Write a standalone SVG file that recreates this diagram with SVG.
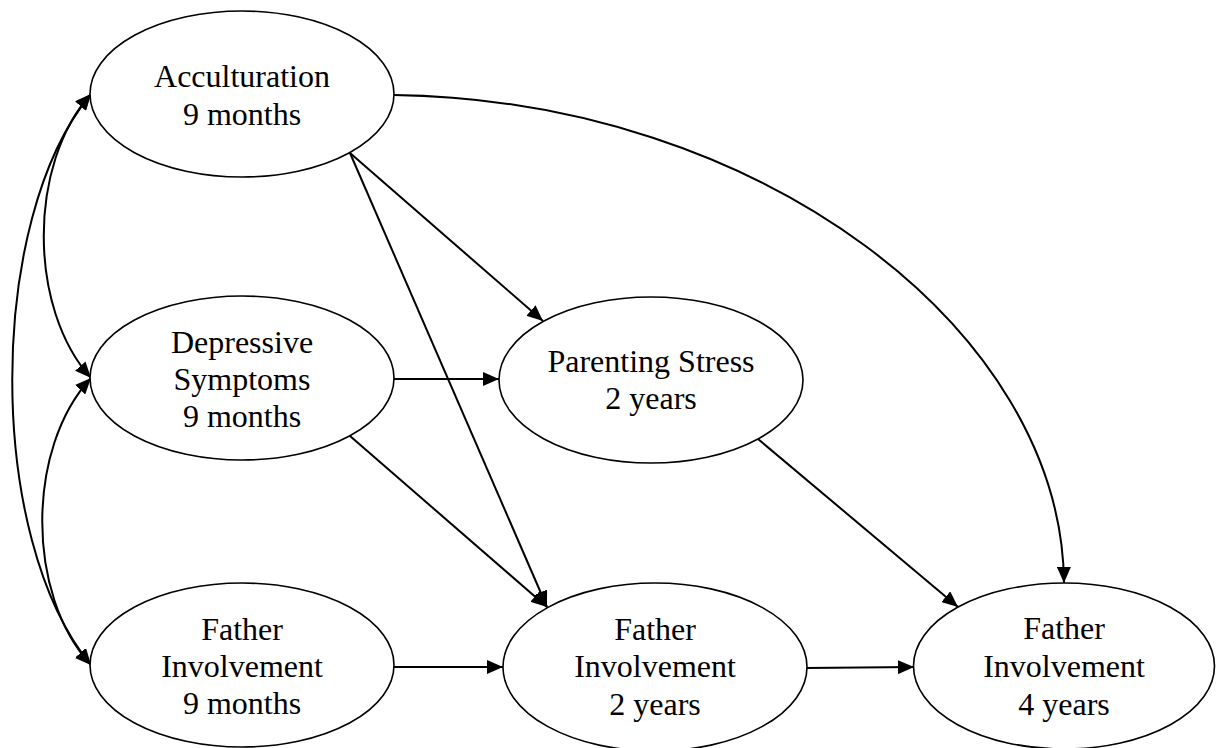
<svg xmlns="http://www.w3.org/2000/svg" width="1216" height="748" viewBox="0 0 1216 748">
<style>
.node ellipse{fill:#fff;stroke:#000;stroke-width:1.6}
.node text{font-family:"Liberation Serif","Times New Roman",serif;font-size:32px;fill:#000;text-anchor:middle}
.edge{fill:none;stroke:#000;stroke-width:2;marker-end:url(#ah)}
.cov{fill:none;stroke:#000;stroke-width:2;marker-end:url(#ah);marker-start:url(#ahs)}
</style>
<defs>
<marker id="ah" markerUnits="userSpaceOnUse" markerWidth="16" markerHeight="14" refX="16" refY="7" orient="auto" viewBox="0 0 16 14">
<path d="M0,0 L16,7 L0,14 z" fill="#000"/>
</marker>
<marker id="ahs" markerUnits="userSpaceOnUse" markerWidth="16" markerHeight="14" refX="16" refY="7" orient="auto-start-reverse" viewBox="0 0 16 14">
<path d="M0,0 L16,7 L0,14 z" fill="#000"/>
</marker>
</defs>
<rect width="1216" height="748" fill="#fff"/>
<g id="connectors">
<path class="cov" d="M91,94 C-14,220 -14,539 91,665"/>
<path class="cov" d="M91,94 C28,164 28,308 91,378"/>
<path class="cov" d="M91,378 C26,448 26,595 91,665"/>
<path class="edge" d="M394,95 C760,100 1062,330 1064,583"/>
<line class="edge" x1="350" y1="153" x2="543" y2="321"/>
<line class="edge" x1="350" y1="153" x2="547" y2="607"/>
<line class="edge" x1="394" y1="379" x2="499" y2="379"/>
<line class="edge" x1="350" y1="436" x2="547" y2="607"/>
<line class="edge" x1="394" y1="667" x2="503" y2="667"/>
<line class="edge" x1="758" y1="439" x2="958" y2="607"/>
<line class="edge" x1="806" y1="668" x2="914" y2="667"/>
</g>
<g id="acculturation" class="node">
<ellipse cx="242" cy="94" rx="152" ry="83"/>
<text x="242" y="87">Acculturation</text>
<text x="242" y="125">9 months</text>
</g>
<g id="depressive" class="node">
<ellipse cx="242" cy="378" rx="152" ry="82"/>
<text x="242" y="353">Depressive</text>
<text x="242" y="390">Symptoms</text>
<text x="242" y="427">9 months</text>
</g>
<g id="father9m" class="node">
<ellipse cx="242" cy="665" rx="152" ry="82"/>
<text x="242" y="640">Father</text>
<text x="242" y="677">Involvement</text>
<text x="242" y="714">9 months</text>
</g>
<g id="stress2y" class="node">
<ellipse cx="651" cy="380" rx="152" ry="83"/>
<text x="651" y="372">Parenting Stress</text>
<text x="651" y="409">2 years</text>
</g>
<g id="father2y" class="node">
<ellipse cx="655" cy="667" rx="152" ry="84"/>
<text x="655" y="640">Father</text>
<text x="655" y="677">Involvement</text>
<text x="655" y="715">2 years</text>
</g>
<g id="father4y" class="node">
<ellipse cx="1064" cy="666" rx="150.5" ry="83"/>
<text x="1064" y="639">Father</text>
<text x="1064" y="677">Involvement</text>
<text x="1064" y="715">4 years</text>
</g>
</svg>
